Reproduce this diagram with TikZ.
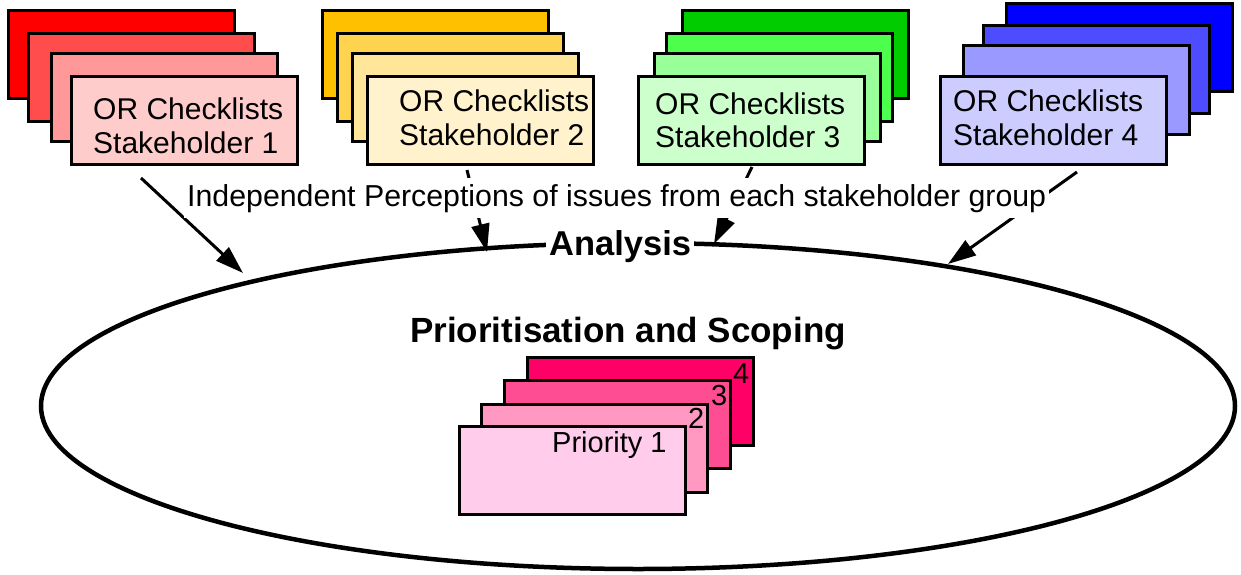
\documentclass[tikz,border=0pt]{standalone}
\usepackage{fontspec}
\setmainfont{Liberation Sans}
\usetikzlibrary{arrows.meta}
\definecolor{r1}{HTML}{FF0000}\definecolor{r2}{HTML}{FF4D4D}\definecolor{r3}{HTML}{FF9999}\definecolor{r4}{HTML}{FFCCCC}
\definecolor{y1}{HTML}{FFC000}\definecolor{y2}{HTML}{FFD34D}\definecolor{y3}{HTML}{FFE699}\definecolor{y4}{HTML}{FFF2CC}
\definecolor{g1}{HTML}{00CC00}\definecolor{g2}{HTML}{4DFF4D}\definecolor{g3}{HTML}{99FF99}\definecolor{g4}{HTML}{CCFFCC}
\definecolor{b1}{HTML}{0000FF}\definecolor{b2}{HTML}{4D4DFF}\definecolor{b3}{HTML}{9999FF}\definecolor{b4}{HTML}{CCCCFF}
\definecolor{p1}{HTML}{FF0066}\definecolor{p2}{HTML}{FF4D94}\definecolor{p3}{HTML}{FF99C2}\definecolor{p4}{HTML}{FFCCEB}
\tikzset{
  card/.style={draw=black, line width=3pt, minimum width=226pt, minimum height=88pt, inner sep=0pt},
  lbl/.style={anchor=base west, inner sep=0pt, font=\fontsize{30}{36}\selectfont},
  plbl/.style={anchor=base west, inner sep=0pt, font=\fontsize{29}{34}\selectfont},
  arr/.style={line width=3pt, -{Triangle[length=28pt,width=18pt]}},
}
\begin{document}
\begin{tikzpicture}[x=1pt,y=-1pt]
\useasboundingbox (0,0) rectangle (1241,575);
% ellipse
\draw[line width=4.5pt] (638,406) ellipse [x radius=597, y radius=163];
% stacks
\node[card, fill=r1] (ra) at (121.5,54.5) {};
\node[card, fill=r2] (rb) at (141.5,77.5) {};
\node[card, fill=r3] (rc) at (164,97.5) {};
\node[card, fill=r4] (rd) at (184,120.5) {};
\node[card, fill=y1] (ya) at (435,54.5) {};
\node[card, fill=y2] (yb) at (450.5,77.5) {};
\node[card, fill=y3] (yc) at (465.5,97.5) {};
\node[card, fill=y4] (yd) at (480.5,120.5) {};
\node[card, fill=g1] (ga) at (795,54.5) {};
\node[card, fill=g2] (gb) at (779.5,77.5) {};
\node[card, fill=g3] (gc) at (767.5,97.5) {};
\node[card, fill=g4] (gd) at (751.5,120.5) {};
\node[card, fill=b1] (ba) at (1119,47.5) {};
\node[card, fill=b2] (bb) at (1096,69.5) {};
\node[card, fill=b3] (bc) at (1076,90) {};
\node[card, fill=b4] (bd) at (1053,120.5) {};
\node[lbl] (t1a) at (93,120) {OR Checklists};
\node[lbl] (t1b) at (93,153) {Stakeholder 1};
\node[lbl] (t2a) at (399,112) {OR Checklists};
\node[lbl] (t2b) at (399,145) {Stakeholder 2};
\node[lbl] (t3a) at (655,115) {OR Checklists};
\node[lbl] (t3b) at (655,147) {Stakeholder 3};
\node[lbl] (t4a) at (953,112) {OR Checklists};
\node[lbl] (t4b) at (953,146) {Stakeholder 4};
% priority stack
\node[card, fill=p1] (pa) at (640.5,401.5) {};
\node[card, fill=p2] (pb) at (617.5,424.5) {};
\node[card, fill=p3] (pc) at (594.5,448) {};
\node[card, fill=p4] (pd) at (572.5,470.5) {};
\node[plbl] (l4) at (733,383) {4};
\node[plbl] (l3) at (711,405) {3};
\node[plbl] (l2) at (688,428) {2};
\node[plbl] (l1) at (552,452) {Priority 1};
% arrows
\coordinate (s1) at (141,178); \coordinate (e1) at (243,273);
\coordinate (s2) at (467,170); \coordinate (e2) at (487,252);
\coordinate (s3) at (752,167); \coordinate (e3) at (714,244);
\coordinate (s4) at (1077,172); \coordinate (e4) at (948,264);
\draw[arr] (s1) -- (e1);
\draw[arr] (s2) -- (e2);
\draw[arr] (s3) -- (e3);
\draw[arr] (s4) -- (e4);
% labels
\node[anchor=base west, fill=white, inner xsep=3pt, inner ysep=6pt, font=\fontsize{30.3}{36}\selectfont] (ind) at (184,206) {Independent Perceptions of issues from each stakeholder group};
\node[anchor=base west, fill=white, inner xsep=3pt, inner ysep=3pt, font=\fontsize{34.5}{40}\selectfont\bfseries] (ana) at (546,255) {Analysis};
\node[anchor=base west, inner sep=0pt, font=\fontsize{35}{42}\selectfont\bfseries] (pri) at (410,342) {Prioritisation and Scoping};
\end{tikzpicture}
\end{document}
